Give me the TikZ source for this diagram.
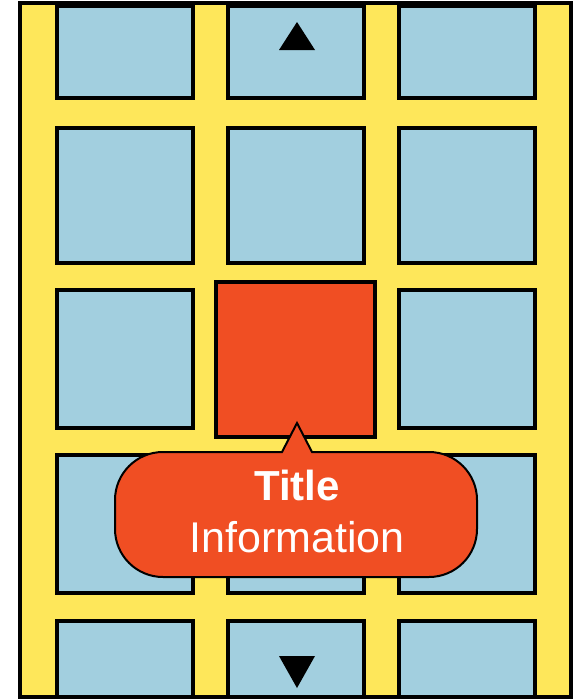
\documentclass[tikz,border=0pt]{standalone}
\usepackage{fontspec}
\setmainfont{Liberation Sans}
\begin{document}
\begin{tikzpicture}[x=1pt,y=-1pt,
  cell/.style={draw=black, line width=3.5pt, fill=cellblue, inner sep=0pt, minimum width=136pt},
  hot/.style={draw=black, line width=3.5pt, fill=hotred, inner sep=0pt},
  arrowtri/.style={fill=black, draw=none},
  lbl/.style={text=white, anchor=base, inner sep=0pt}]
\definecolor{cellblue}{HTML}{A2CFDF}
\definecolor{frameyellow}{HTML}{FEE75A}
\definecolor{hotred}{HTML}{F04E23}
\useasboundingbox (0,0) rectangle (578,699);
\draw[line width=3.5pt, fill=frameyellow] (20,3) rectangle (571,697);
% row 1
\node[cell, minimum height=92pt] (c11) at (125,52) {};
\node[cell, minimum height=92pt] (c12) at (296,52) {};
\node[cell, minimum height=92pt] (c13) at (467,52) {};
% row 2
\node[cell, minimum height=135pt] (c21) at (125,195.5) {};
\node[cell, minimum height=135pt] (c22) at (296,195.5) {};
\node[cell, minimum height=135pt] (c23) at (467,195.5) {};
% row 3
\node[cell, minimum height=138pt] (c31) at (125,359) {};
\node[cell, minimum height=138pt] (c33) at (467,359) {};
% row 4
\node[cell, minimum height=138pt] (c41) at (125,524) {};
\node[cell, minimum height=138pt] (c42) at (296,524) {};
\node[cell, minimum height=138pt] (c43) at (467,524) {};
% row 5
\node[cell, minimum height=76pt] (c51) at (125,659) {};
\node[cell, minimum height=76pt] (c52) at (296,659) {};
\node[cell, minimum height=76pt] (c53) at (467,659) {};
% redraw frame border over row 5 bottom
\draw[line width=3.5pt] (20,3) rectangle (571,697);
% highlighted cell
\node[hot, minimum width=159pt, minimum height=155pt] (sel) at (295.5,359.5) {};
% arrows
\fill[arrowtri] (297,22) -- (315,50) -- (279,50) -- cycle;
\fill[arrowtri] (297,688) -- (315,656) -- (279,656) -- cycle;
% callout
\draw[line width=2pt, fill=hotred] (282,452) -- (297,423) -- (312,452)
  [rounded corners=48pt] -- (477,452) -- (477,577) -- (115,577) -- (115,452) [sharp corners] -- cycle;
\node[lbl, font=\fontsize{42}{46}\selectfont\bfseries] (title) at (297,500) {Title};
\node[lbl, font=\fontsize{43}{46}\selectfont] (info) at (297,552) {Information};
\end{tikzpicture}
\end{document}
